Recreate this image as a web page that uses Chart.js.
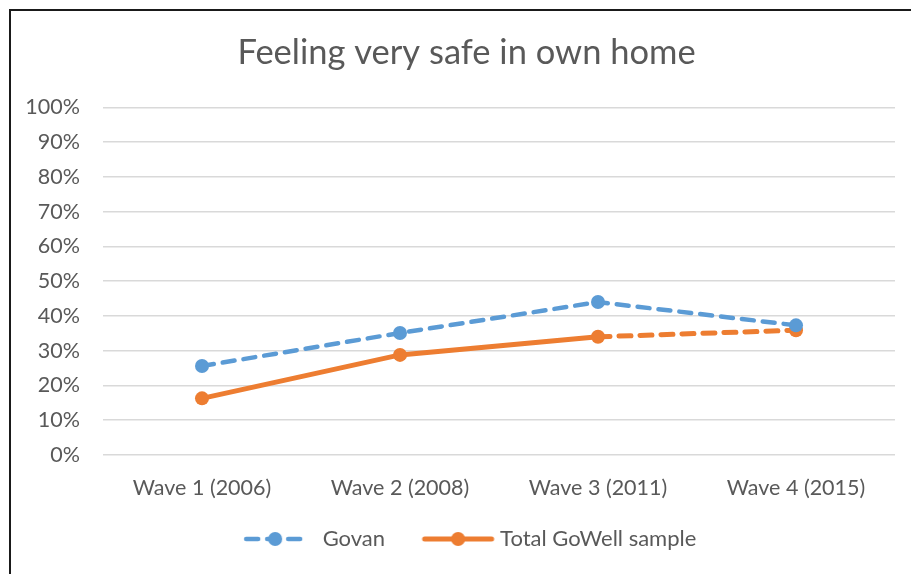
<!DOCTYPE html>
<html>
<head>
<meta charset="utf-8">
<script src="https://cdn.jsdelivr.net/npm/chart.js@4"></script>
<style>
  html, body { margin: 0; padding: 0; background: #fff; }
  #wrap { position: relative; width: 911px; height: 574px; }
  #frame {
    position: absolute; left: 9px; top: 9px; right: -5px; bottom: -5px;
    border-left: 2px solid #1a1a1a; border-top: 2px solid #1a1a1a;
    pointer-events: none;
  }
</style>
</head>
<body>
<div id="wrap">
  <canvas id="myChart" width="911" height="574"></canvas>
  <div id="frame"></div>
</div>
<script>
const chartTitle = "Feeling very safe in own home";
const waves = ["Wave 1 (2006)", "Wave 2 (2008)", "Wave 3 (2011)", "Wave 4 (2015)"];
const govan = [25.6, 35.1, 44.0, 37.3];
const totalGoWell = [16.3, 28.8, 34.0, 35.9];
const seriesNames = ["Govan", "Total GoWell sample"];
const yTicks = [0, 10, 20, 30, 40, 50, 60, 70, 80, 90, 100];

const blue = "#5B9BD5";
const orange = "#ED7D31";
const textGrey = "#595959";
const fontFamily = "Lato, 'Open Sans', sans-serif";

// legend pictures: line + marker like the Office legend.
// canvas is wider than the legend box, the drawing sits at [from, to]
function legendIcon(color, from, to, dashed) {
  const c = document.createElement("canvas");
  c.width = 110;
  c.height = 18;
  const g = c.getContext("2d");
  g.strokeStyle = color;
  g.fillStyle = color;
  g.lineWidth = dashed ? 4.5 : 5;
  g.lineCap = "round";
  if (dashed) g.setLineDash([12, 9]);
  g.beginPath();
  g.moveTo(from + 3, 9);
  g.lineTo(to - 3, 9);
  g.stroke();
  g.beginPath();
  g.arc((from + to) / 2, 9, 7, 0, Math.PI * 2);
  g.fill();
  return c;
}

const ctx = document.getElementById("myChart");
new Chart(ctx, {
  type: "line",
  data: {
    labels: waves,
    datasets: [
      {
        label: seriesNames[0],
        data: govan,
        borderColor: blue,
        backgroundColor: blue,
        borderWidth: 4.5,
        borderDash: [12, 9],
        borderCapStyle: "round",
        pointRadius: 7,
        pointHoverRadius: 7,
        pointBorderWidth: 0,
        pointStyle: "circle",
        tension: 0,
        icon: legendIcon(blue, 24, 88, true),
      },
      {
        label: seriesNames[1],
        data: totalGoWell,
        borderColor: orange,
        backgroundColor: orange,
        borderWidth: 5,
        borderCapStyle: "round",
        pointRadius: 7,
        pointHoverRadius: 7,
        pointBorderWidth: 0,
        tension: 0,
        segment: {
          // last wave is drawn dashed
          borderDash: (s) => (s.p0DataIndex === 2 ? [12, 9] : undefined),
        },
        icon: legendIcon(orange, 25, 98, false),
      },
    ],
  },
  options: {
    responsive: false,
    animation: false,
    // right padding < 0 so title and legend centre on the whole frame
    layout: { padding: { left: 10, right: -12, top: 20, bottom: 14 } },
    plugins: {
      title: {
        display: true,
        text: chartTitle,
        color: textGrey,
        font: { family: fontFamily, size: 34.5, weight: "normal" },
        padding: { top: 12, bottom: 34 },
      },
      legend: {
        position: "bottom",
        labels: {
          usePointStyle: true,
          pointStyleWidth: 75,
          color: textGrey,
          font: { family: fontFamily, size: 22 },
          padding: 29,
          generateLabels: (chart) =>
            chart.data.datasets.map((ds, i) => ({
              text: ds.label,
              pointStyle: ds.icon,
              fontColor: textGrey,
              strokeStyle: ds.borderColor,
              fillStyle: ds.backgroundColor,
              lineWidth: 0,
              datasetIndex: i,
            })),
        },
      },
      tooltip: { enabled: false },
    },
    scales: {
      x: {
        offset: true,
        grid: { display: false, drawTicks: false },
        border: { display: false },
        ticks: {
          color: textGrey,
          font: { family: fontFamily, size: 21.5 },
          padding: 20,
          maxRotation: 0,
        },
        afterFit: (scale) => { scale.height = 44; },
      },
      y: {
        min: 0,
        max: 100,
        afterBuildTicks: (scale) => {
          scale.ticks = yTicks.map((v) => ({ value: v }));
        },
        grid: { color: "#D9D9D9", lineWidth: 1.5, drawTicks: false },
        border: { display: false },
        ticks: {
          color: textGrey,
          font: { family: fontFamily, size: 21.5 },
          padding: 23,
          callback: (v) => v + "%",
        },
        afterFit: (scale) => { scale.width = 93; },
      },
      // empty axis on the right, only keeps the plot clear of the edge
      yRight: {
        position: "right",
        display: true,
        grid: { display: false, drawTicks: false },
        border: { display: false },
        ticks: { display: false },
        afterFit: (scale) => { scale.width = 28; },
      },
    },
  },
});
</script>
</body>
</html>
